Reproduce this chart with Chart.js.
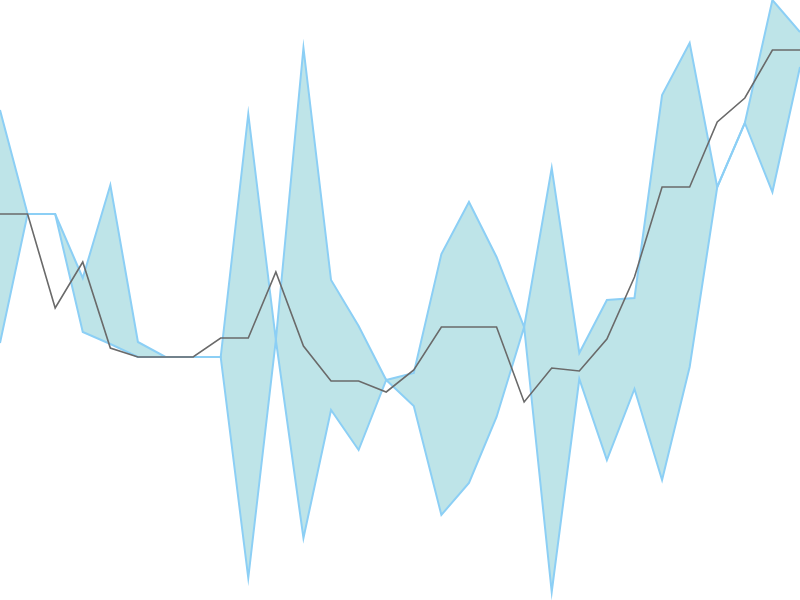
<!DOCTYPE html>
<html>
<head>
<meta charset="utf-8">
<script src="https://cdn.jsdelivr.net/npm/chart.js@4"></script>
<style>
  html, body { margin: 0; padding: 0; background: #fff; }
  #wrap { width: 800px; height: 600px; }
</style>
</head>
<body>
<div id="wrap"><canvas id="chart" width="800" height="600"></canvas></div>
<script>
// 30 periods
const labels = Array.from({ length: 30 }, (_, i) => String(i + 1));

// band bounds (they swap places where the band twists)
const upperBound = [490, 386, 386, 322, 415, 258, 243, 243, 243, 486, 260, 552, 320, 274, 220,
                    227, 346, 398, 343, 273, 432, 247, 300, 302, 505, 557, 413, 477, 600, 568];
const lowerBound = [257, 386, 386, 268, 256, 243, 243, 243, 243, 22, 260, 62, 190, 150, 220,
                    194, 85, 117, 183, 273, 8, 221, 140, 211, 120, 233, 413, 477, 408, 533];

// middle series
const midValues = [386, 386, 292, 338, 252, 243, 243, 243, 262, 262, 328, 254, 219, 219, 208,
                   230, 273, 273, 273, 198, 232, 229, 261, 323, 413, 413, 478, 502, 550, 550];

const ctx = document.getElementById('chart').getContext('2d');
new Chart(ctx, {
    type: 'line',
    data: {
        labels: labels,
        datasets: [
            {
                label: 'Middle',
                data: midValues,
                borderColor: '#6a6a6a',
                borderWidth: 1.6,
                pointRadius: 0,
                fill: false,
                tension: 0
            },
            {
                label: 'Upper',
                data: upperBound,
                borderColor: '#8ccff5',
                borderWidth: 2,
                pointRadius: 0,
                fill: false,
                tension: 0
            },
            {
                // lower draws first, so its fill sits under both band lines
                label: 'Lower',
                data: lowerBound,
                borderColor: '#8ccff5',
                backgroundColor: '#bee4e8',
                borderWidth: 2,
                pointRadius: 0,
                fill: '-1',
                tension: 0
            }
        ]
    },
    options: {
        responsive: false,
        animation: false,
        layout: { padding: 0 },
        plugins: {
            legend: { display: false },
            tooltip: { enabled: false }
        },
        scales: {
            x: { display: false, offset: false },
            y: { display: false, min: 0, max: 600 }
        }
    }
});
</script>
</body>
</html>
